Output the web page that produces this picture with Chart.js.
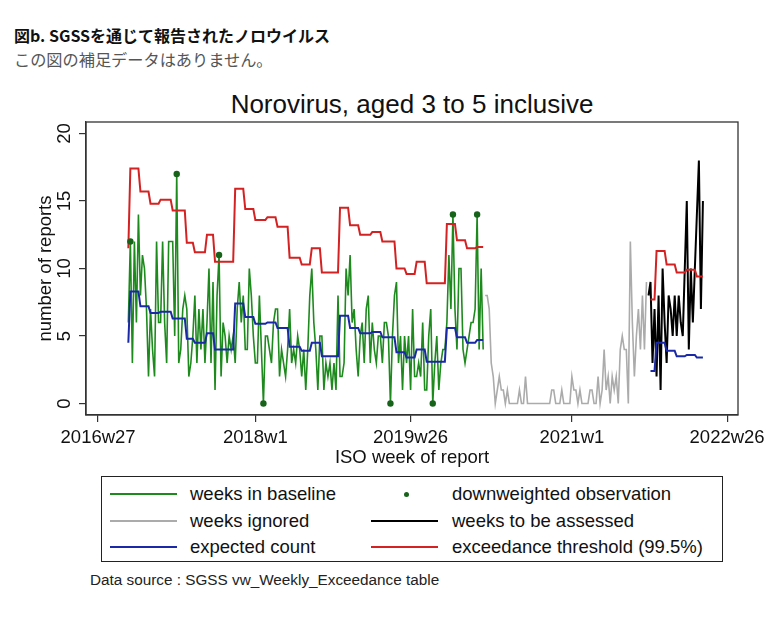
<!DOCTYPE html>
<html lang="ja">
<head>
<meta charset="utf-8">
<title>Norovirus, aged 3 to 5 inclusive</title>
<script src="https://cdn.jsdelivr.net/npm/chart.js@4.4.1/dist/chart.umd.min.js"></script>
<style>
  body { margin: 0; background: #fff; width: 772px; height: 619px; position: relative; overflow: hidden;
         font-family: "Liberation Sans", Arial, sans-serif; color: #111; }
  .head { position: absolute; left: 14px; top: 23px; font: bold 16px "Noto Sans CJK JP", sans-serif; color: #111; white-space: nowrap; }
  .sub { position: absolute; left: 14px; top: 47px; font: 16.2px "Noto Sans CJK JP", sans-serif; color: #555; white-space: nowrap; }
  .ctitle { position: absolute; left: 86px; width: 652px; top: 89px; line-height: 30px; text-align: center; font-size: 26px; }
  #wrap { position: absolute; left: 0; top: 80px; width: 772px; height: 395px; }
  .legend { position: absolute; left: 101px; top: 476px; width: 622px; height: 86px; box-sizing: border-box; border: 1.5px solid #222; }
  .ln { position: absolute; height: 2px; width: 67px; }
  .lt { position: absolute; font-size: 18.5px; line-height: 22px; white-space: nowrap; }
  .dot { position: absolute; width: 5px; height: 5px; border-radius: 50%; background: #17631a; }
  .src { position: absolute; left: 90px; top: 571px; font-size: 15.3px; line-height: 18px; color: #222; }
</style>
</head>
<body>
<div class="head">図b. SGSSを通じて報告されたノロウイルス</div>
<div class="sub">この図の補足データはありません。</div>
<div class="ctitle">Norovirus, aged 3 to 5 inclusive</div>
<div id="wrap"><canvas id="chart"></canvas></div>

<div class="legend"></div>
<div class="ln" style="left:110px; top:493px; background:#1e8a1e"></div>
<div class="lt" style="left:190px; top:483px">weeks in baseline</div>
<div class="dot" style="left:404px; top:492px"></div>
<div class="lt" style="left:452px; top:483px">downweighted observation</div>
<div class="ln" style="left:110px; top:520px; background:#ababab"></div>
<div class="lt" style="left:190px; top:510px">weeks ignored</div>
<div class="ln" style="left:371px; top:520px; background:#000"></div>
<div class="lt" style="left:452px; top:510px">weeks to be assessed</div>
<div class="ln" style="left:110px; top:546px; background:#1a2aa6"></div>
<div class="lt" style="left:190px; top:536px">expected count</div>
<div class="ln" style="left:371px; top:546px; background:#d42222"></div>
<div class="lt" style="left:452px; top:536px">exceedance threshold (99.5%)</div>
<div class="src">Data source : SGSS vw_Weekly_Exceedance table</div>

<script>
// Semaines ISO comptées depuis 2016w27 (= 0)
const weekTicks = [0, 78, 155, 235, 312];
const weekTickLabels = ['2016w27', '2018w1', '2019w26', '2021w1', '2022w26'];
const yTicks = [0, 5, 10, 15, 20];

// Nombre de rapports par semaine
const baselineStart = 15;
const baselineCounts = [
  6, 12, 3, 12, 6, 14, 8, 11, 10, 7,
  2, 7, 4, 2, 12, 6, 6, 12, 6, 3,
  12, 12, 12, 5, 17, 3, 4, 7, 8, 7,
  2, 3, 5, 8, 3, 7, 4, 7, 3, 6,
  10, 3, 9, 1, 8, 11, 2, 6, 5, 3,
  5, 4, 5, 3, 7, 9, 6,
  8, 4, 4, 10, 8, 5, 3, 3, 8, 4,
  0, 5, 5, 4, 3, 6, 7, 7, 2, 4,
  3, 2, 4, 7, 3, 4, 3, 5, 4, 2,
  4, 1, 4, 8, 10, 6, 4, 1, 5, 5,
  1, 3, 2, 3, 1, 3, 1, 8, 2, 2,
  3, 10, 8, 11, 6, 7, 4, 2, 5, 6,
  3, 7, 8,
  3, 6, 4, 3, 5, 5, 3, 6, 6, 5,
  0, 5, 8, 9, 3, 5, 1, 5, 3, 5,
  1, 7, 2, 2, 3, 2, 6, 1, 1, 5,
  7, 0, 3, 5, 1, 3, 4, 4, 6, 11,
  7, 14, 7, 4, 10, 10, 4, 3, 4, 5,
  6, 6, 7, 14, 4, 10, 4
];
const ignoredStart = 192;
const ignoredCounts = [
  8, 8, 7, 3, 2, 0, 1, 2, 1, 1,
  0, 1, 0, 0, 0, 0, 0, 1, 0, 0,
  2, 0, 0, 0, 0, 0, 0, 0, 0, 0,
  0, 0, 0, 1, 1, 0, 0, 0, 1, 0,
  0, 0, 0, 2, 1, 1, 0, 1, 0, 0,
  0, 0, 1, 1, 0, 0, 2, 0, 1, 4,
  1, 2, 0, 2, 1, 2, 0, 4, 5, 4,
  4, 0, 12, 6, 2, 5, 7, 4, 8, 4,
  9
];
const assessedStart = 273;
const assessedCounts = [
  8, 9, 3, 7, 2, 8, 1, 10, 6, 3,
  8, 7, 5, 8, 5, 8, 6, 5, 10, 15,
  4, 10, 6, 10, 14, 18, 7, 15
];

// Valeurs attendues et seuils (période de référence)
const expectedBaseline = [
  4.5,
  8.3, 8.3, 8.3, 8.3, 8.3,
  7.2, 7.2, 7.2, 7.2, 7.2,
  6.7, 6.7, 6.7, 6.7, 6.7,
  6.8, 6.8, 6.8, 6.8, 6.8, 6.8,
  6.3, 6.3, 6.3, 6.3, 6.3, 6.3, 6.3,
  4.8, 4.8, 4.8, 4.8,
  4.5, 4.5, 4.5, 4.5, 4.5, 4.5,
  5.2, 5.2, 5.2, 5.2,
  4.0, 4.0, 4.0, 4.0, 4.0, 4.0, 4.0, 4.0, 4.0, 4.0,
  7.4, 7.4, 7.4, 7.4, 7.4,
  6.4, 6.4, 6.4, 6.4, 6.4,
  5.9, 5.9, 5.9, 5.9, 5.9, 5.9,
  6.0, 6.0, 6.0, 6.0, 6.0,
  5.6, 5.6, 5.6, 5.6, 5.6, 5.6,
  4.2, 4.2, 4.2, 4.2, 4.2, 4.2,
  3.9, 3.9, 3.9, 3.9, 3.9,
  4.5, 4.5, 4.5, 4.5, 4.5,
  3.5, 3.5, 3.5, 3.5, 3.5, 3.5, 3.5, 3.5, 3.5,
  6.5, 6.5, 6.5, 6.5, 6.5,
  5.6, 5.6, 5.6, 5.6, 5.6,
  5.2, 5.2, 5.2, 5.2, 5.2, 5.2,
  5.3, 5.3, 5.3, 5.3, 5.3,
  4.9, 4.9, 4.9, 4.9, 4.9, 4.9, 4.9,
  3.8, 3.8, 3.8, 3.8, 3.8,
  3.4, 3.4, 3.4, 3.4, 3.4,
  4.0, 4.0, 4.0, 4.0, 4.0,
  3.1, 3.1, 3.1, 3.1, 3.1, 3.1, 3.1, 3.1, 3.1, 3.1,
  5.6, 5.6, 5.6, 5.6, 5.6,
  4.9, 4.9, 4.9, 4.9, 4.9,
  4.5, 4.5, 4.5, 4.5, 4.5,
  4.7, 4.7, 4.7, 4.7
];
const thresholdBaseline = [
  11.5,
  17.4, 17.4, 17.4, 17.4, 17.4,
  15.7, 15.7, 15.7, 15.7, 15.7,
  14.8, 14.8, 14.8, 14.8, 14.8,
  15.1, 15.1, 15.1, 15.1, 15.1, 15.1,
  14.3, 14.3, 14.3, 14.3, 14.3, 14.3, 14.3,
  11.9, 11.9, 11.9, 11.9,
  11.2, 11.2, 11.2, 11.2, 11.2, 11.2,
  12.5, 12.5, 12.5, 12.5,
  10.5, 10.5, 10.5, 10.5, 10.5, 10.5, 10.5, 10.5, 10.5, 10.5,
  15.9, 15.9, 15.9, 15.9, 15.9,
  14.4, 14.4, 14.4, 14.4, 14.4,
  13.6, 13.6, 13.6, 13.6, 13.6, 13.6,
  13.8, 13.8, 13.8, 13.8, 13.8,
  13.1, 13.1, 13.1, 13.1, 13.1, 13.1,
  10.8, 10.8, 10.8, 10.8, 10.8, 10.8,
  10.3, 10.3, 10.3, 10.3, 10.3,
  11.5, 11.5, 11.5, 11.5, 11.5,
  9.7, 9.7, 9.7, 9.7, 9.7, 9.7, 9.7, 9.7, 9.7,
  14.5, 14.5, 14.5, 14.5, 14.5,
  13.2, 13.2, 13.2, 13.2, 13.2,
  12.5, 12.5, 12.5, 12.5, 12.5, 12.5,
  12.7, 12.7, 12.7, 12.7, 12.7,
  12.0, 12.0, 12.0, 12.0, 12.0, 12.0, 12.0,
  10.0, 10.0, 10.0, 10.0, 10.0,
  9.6, 9.6, 9.6, 9.6, 9.6,
  10.5, 10.5, 10.5, 10.5, 10.5,
  8.9, 8.9, 8.9, 8.9, 8.9, 8.9, 8.9, 8.9, 8.9, 8.9,
  13.3, 13.3, 13.3, 13.3, 13.3,
  12.1, 12.1, 12.1, 12.1, 12.1,
  11.5, 11.5, 11.5, 11.5, 11.5,
  11.6, 11.6, 11.6, 11.6
];

// Valeurs attendues et seuils (semaines évaluées)
const modelStart = 274;
const expectedAssessed = [
  2.4, 2.4, 2.4,
  4.5, 4.5, 4.5, 4.5, 4.5,
  3.9, 3.9, 3.9, 3.9, 3.9,
  3.5, 3.5, 3.5, 3.5, 3.5,
  3.6, 3.6, 3.6, 3.6, 3.6,
  3.4, 3.4, 3.4, 3.4
];
const thresholdAssessed = [
  7.7, 7.7, 7.7,
  11.3, 11.3, 11.3, 11.3, 11.3,
  10.3, 10.3, 10.3, 10.3, 10.3,
  9.7, 9.7, 9.7, 9.7, 9.7,
  9.9, 9.9, 9.9, 9.9, 9.9,
  9.4, 9.4, 9.4, 9.4
];

// Observations pondérées à la baisse
const downweightedWeeks = [16, 39, 60, 82, 145, 166, 176, 188];
const downweightedCounts = [12, 17, 11, 0, 0, 0, 14, 14];

function toPoints(start, values) {
    return values.map((v, i) => ({ x: start + i, y: v }));
}

// Cadre du graphique + étiquettes verticales de l'axe Y
const framePlugin = {
    id: 'frame',
    afterDraw(chart) {
        const { ctx, chartArea, scales } = chart;
        ctx.save();
        ctx.strokeStyle = '#333';
        ctx.lineWidth = 1.3;
        ctx.strokeRect(chartArea.left, chartArea.top, chartArea.right - chartArea.left, chartArea.bottom - chartArea.top);
        ctx.fillStyle = '#111';
        ctx.font = '18.5px "Liberation Sans", Arial, sans-serif';
        ctx.textAlign = 'center';
        ctx.textBaseline = 'middle';
        yTicks.forEach(v => {
            const py = scales.y.getPixelForValue(v);
            ctx.save();
            ctx.translate(65, py);
            ctx.rotate(-Math.PI / 2);
            ctx.fillText(String(v), 0, 0);
            ctx.restore();
        });
        ctx.restore();
    }
};

const lineStyle = { pointRadius: 0, tension: 0, fill: false };

new Chart(document.getElementById('chart'), {
    type: 'line',
    data: {
        datasets: [
            { ...lineStyle, label: 'downweighted observation', data: downweightedWeeks.map((w, i) => ({ x: w, y: downweightedCounts[i] })),
              showLine: false, pointRadius: 3.2, pointBorderWidth: 0, pointBackgroundColor: '#17631a', order: 1 },
            { ...lineStyle, label: 'exceedance threshold (99.5%)', data: toPoints(baselineStart, thresholdBaseline), borderColor: '#d42222', borderWidth: 2, order: 2 },
            { ...lineStyle, label: 'exceedance threshold (99.5%)', data: toPoints(modelStart, thresholdAssessed), borderColor: '#d42222', borderWidth: 2, order: 2 },
            { ...lineStyle, label: 'expected count', data: toPoints(baselineStart, expectedBaseline), borderColor: '#1a2aa6', borderWidth: 2, order: 3 },
            { ...lineStyle, label: 'expected count', data: toPoints(modelStart, expectedAssessed), borderColor: '#1a2aa6', borderWidth: 2, order: 3 },
            { ...lineStyle, label: 'weeks to be assessed', data: toPoints(assessedStart, assessedCounts), borderColor: '#000', borderWidth: 2, order: 4 },
            { ...lineStyle, label: 'weeks ignored', data: toPoints(ignoredStart, ignoredCounts), borderColor: '#ababab', borderWidth: 1.6, order: 5 },
            { ...lineStyle, label: 'weeks in baseline', data: toPoints(baselineStart, baselineCounts), borderColor: '#1e8a1e', borderWidth: 1.6, order: 6 }
        ]
    },
    options: {
        responsive: true,
        maintainAspectRatio: false,
        animation: false,
        layout: { padding: { top: 42, right: 34, left: 0, bottom: 0 } },
        plugins: { legend: { display: false }, tooltip: { enabled: false } },
        scales: {
            x: {
                type: 'linear',
                min: -6,
                max: 317.4,
                afterBuildTicks: s => { s.ticks = weekTicks.map(v => ({ value: v })); },
                afterFit: s => { s.height = 60; },
                ticks: {
                    callback: (v, i) => weekTickLabels[i],
                    font: { size: 18.5, family: '"Liberation Sans", Arial, sans-serif' },
                    color: '#111',
                    maxRotation: 0,
                    autoSkip: false,
                    padding: 5
                },
                grid: { drawOnChartArea: false, drawTicks: true, tickLength: 7, color: '#333', lineWidth: 1.2 },
                border: { display: true, color: '#333', width: 1.3 },
                title: {
                    display: true,
                    text: 'ISO week of report',
                    font: { size: 18.5, family: '"Liberation Sans", Arial, sans-serif' },
                    color: '#111',
                    padding: { top: 0, bottom: 6 }
                }
            },
            y: {
                min: -0.85,
                max: 20.85,
                afterBuildTicks: s => { s.ticks = yTicks.map(v => ({ value: v })); },
                afterFit: s => { s.width = 86; },
                ticks: { display: false },
                grid: { drawOnChartArea: false, drawTicks: true, tickLength: 7, color: '#333', lineWidth: 1.2 },
                border: { display: true, color: '#333', width: 1.3 },
                title: {
                    display: true,
                    text: 'number of reports',
                    font: { size: 18.5, family: '"Liberation Sans", Arial, sans-serif' },
                    color: '#111',
                    padding: { top: 35, bottom: 0 }
                }
            }
        }
    },
    plugins: [framePlugin]
});
</script>
</body>
</html>
